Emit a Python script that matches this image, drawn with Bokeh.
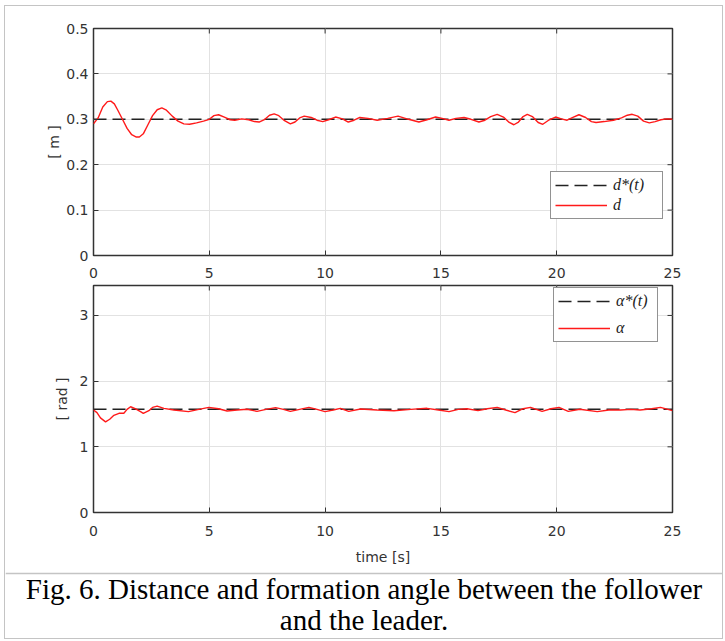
import math
from bokeh.plotting import figure
from bokeh.models import Range1d, FixedTicker, Legend, LegendItem, Label
from bokeh.layouts import column
from bokeh.embed import file_html
from bokeh.resources import INLINE

# ---------------- data ----------------
t_d = [0.00, 0.20, 0.40, 0.60, 0.75, 0.90, 1.05, 1.25, 1.45, 1.65, 1.85, 1.98, 2.15, 2.35,
       2.55, 2.75, 2.95, 3.15, 3.40, 3.65, 3.90, 4.15, 4.45, 4.75, 5.00, 5.20, 5.40, 5.65,
       5.90, 6.10, 6.40, 6.70, 6.95, 7.15, 7.40, 7.60, 7.80, 8.00, 8.25, 8.50, 8.70, 8.90,
       9.10, 9.40, 9.65, 9.90, 10.15, 10.45, 10.75, 11.00, 11.25, 11.50, 11.85, 12.25, 12.70,
       13.15, 13.60, 14.05, 14.40, 14.77, 15.05, 15.35, 15.65, 16.00, 16.30, 16.64, 16.90,
       17.15, 17.43, 17.70, 17.95, 18.15, 18.35, 18.55, 18.73, 18.95, 19.20, 19.40, 19.65,
       19.95, 20.20, 20.45, 20.70, 20.96, 21.25, 21.50, 21.70, 22.05, 22.45, 22.80, 23.05,
       23.26, 23.50, 23.75, 24.00, 24.25, 24.50, 24.75, 25.00]
d = [0.290, 0.303, 0.327, 0.339, 0.340, 0.334, 0.320, 0.300, 0.280, 0.266, 0.261, 0.261,
     0.268, 0.288, 0.308, 0.321, 0.325, 0.320, 0.307, 0.296, 0.290, 0.289, 0.292, 0.296,
     0.300, 0.308, 0.310, 0.305, 0.299, 0.298, 0.301, 0.299, 0.295, 0.294, 0.300, 0.309,
     0.312, 0.308, 0.297, 0.290, 0.294, 0.303, 0.307, 0.304, 0.298, 0.295, 0.299, 0.305,
     0.301, 0.294, 0.298, 0.304, 0.302, 0.298, 0.302, 0.307, 0.300, 0.294, 0.299, 0.305,
     0.302, 0.298, 0.302, 0.304, 0.300, 0.294, 0.298, 0.306, 0.311, 0.305, 0.293, 0.288,
     0.294, 0.306, 0.311, 0.306, 0.293, 0.289, 0.298, 0.305, 0.301, 0.298, 0.304, 0.310,
     0.304, 0.295, 0.293, 0.295, 0.298, 0.303, 0.309, 0.311, 0.307, 0.296, 0.292, 0.295,
     0.299, 0.301, 0.300]

t_alpha = [0.00, 0.15, 0.30, 0.52, 0.70, 0.88, 1.10, 1.31, 1.45, 1.60, 1.80, 2.03, 2.15,
           2.39, 2.55, 2.75, 3.04, 3.47, 4.10, 4.55, 4.98, 5.40, 5.77, 6.20, 6.63, 7.06,
           7.45, 7.86, 8.20, 8.50, 8.90, 9.30, 9.65, 10.00, 10.35, 10.66, 11.02, 11.53,
           12.25, 12.97, 13.70, 14.40, 14.90, 15.35, 15.75, 16.13, 16.60, 17.00, 17.43,
           17.80, 18.20, 18.55, 18.87, 19.37, 19.75, 20.10, 20.50, 21.00, 21.75, 22.25,
           22.75, 23.20, 23.60, 24.10, 24.48, 25.00]
alpha = [1.56, 1.52, 1.44, 1.38, 1.42, 1.48, 1.51, 1.51, 1.57, 1.61, 1.58, 1.535, 1.51,
         1.55, 1.60, 1.62, 1.586, 1.56, 1.535, 1.57, 1.60, 1.58, 1.545, 1.56, 1.571, 1.54,
         1.57, 1.596, 1.57, 1.54, 1.57, 1.60, 1.57, 1.535, 1.56, 1.586, 1.54, 1.575,
         1.56, 1.55, 1.57, 1.586, 1.56, 1.535, 1.57, 1.58, 1.55, 1.58, 1.60,
         1.56, 1.52, 1.58, 1.60, 1.54, 1.58, 1.60, 1.54, 1.571, 1.535, 1.56,
         1.56, 1.57, 1.56, 1.58, 1.60, 1.55]

t_ref = [0, 25]
d_ref = [0.3, 0.3]
alpha_ref = [1.5708, 1.5708]

x_limits = [0, 25]
d_limits = [0, 0.5]
alpha_limits = [0, 3.4558]

x_ticks = [0, 5, 10, 15, 20, 25]
x_tick_labels = ["0", "5", "10", "15", "20", "25"]
d_ticks = [0, 0.1, 0.2, 0.3, 0.4, 0.5]
d_tick_labels = ["0", "0.1", "0.2", "0.3", "0.4", "0.5"]
alpha_ticks = [0, 1, 2, 3]
alpha_tick_labels = ["0", "1", "2", "3"]

legend_d = ["d*(t)", "d"]
legend_alpha = ["α*(t)", "α"]
y_label_d = "[ m ]"
y_label_alpha = "[ rad ]"
x_label = "time [s]"
caption_lines = ["Fig. 6. Distance and formation angle between the follower",
                 "and the leader."]

# ---------------- styling ----------------
W = 717
AX_COL = "#333333"
TXT_COL = "#333333"
GRID_COL = "#e2e2e2"
SANS = "DejaVu Sans"
SERIF = "Liberation Serif"
RED = "#ff1a1a"


def style_main_axis(ax, ticks, labels, standoff):
    ax.ticker = FixedTicker(ticks=ticks)
    ax.major_label_overrides = {tk: lb for tk, lb in zip(ticks, labels)}
    ax.axis_line_color = None
    ax.major_tick_in = 5
    ax.major_tick_out = 0
    ax.major_tick_line_color = AX_COL
    ax.minor_tick_line_color = None
    ax.major_label_text_font = SANS
    ax.major_label_text_font_size = "14px"
    ax.major_label_text_color = TXT_COL
    ax.major_label_standoff = standoff
    ax.axis_label_text_font = SANS
    ax.axis_label_text_font_size = "14px"
    ax.axis_label_text_font_style = "normal"
    ax.axis_label_text_color = TXT_COL


def make_panel(height, ylim, yticks, ylabels, ylab, b_top, b_bottom, xlab, xstand, ylab_stand):
    p = figure(width=W, height=height, output_backend="svg", toolbar_location=None,
               x_range=Range1d(*x_limits), y_range=Range1d(*ylim),
               min_border_left=88, min_border_right=50,
               min_border_top=b_top, min_border_bottom=b_bottom)
    p.outline_line_color = AX_COL
    p.outline_line_width = 1.5
    p.background_fill_color = "white"
    p.border_fill_color = "white"
    style_main_axis(p.xaxis[0], x_ticks, x_tick_labels, xstand)
    style_main_axis(p.yaxis[0], yticks, ylabels, 5)
    p.yaxis[0].axis_label = ylab
    p.yaxis[0].axis_label_standoff = ylab_stand
    if xlab:
        p.xaxis[0].axis_label = xlab
        p.xaxis[0].axis_label_standoff = 10
    p.xgrid.grid_line_color = GRID_COL
    p.ygrid.grid_line_color = GRID_COL
    # inward ticks on the top and right edges (box style)
    p.ray(x=x_ticks, y=[ylim[1]] * len(x_ticks), length=5, length_units="screen",
          angle=-math.pi / 2, line_color=AX_COL, line_width=1)
    p.ray(x=[x_limits[1]] * len(yticks), y=yticks, length=5, length_units="screen",
          angle=math.pi, line_color=AX_COL, line_width=1)
    return p


def add_legend(p, items, loc, label_width, spacing):
    lg = Legend(items=items, location=loc, orientation="vertical",
                border_line_color="#262626", border_line_width=1,
                background_fill_color="white", background_fill_alpha=1,
                label_text_font=SERIF, label_text_font_style="italic",
                label_text_font_size="16px", label_text_color="#222222",
                glyph_width=52, glyph_height=18, label_height=18,
                label_width=label_width, label_standoff=6,
                padding=4, spacing=spacing, margin=0)
    p.add_layout(lg)


# top panel
p1 = make_panel(274, d_limits, d_ticks, d_tick_labels, y_label_d, 22, 25, None, 12, 1)
r1a = p1.line(t_ref, d_ref, line_color="#222222", line_width=1.6, line_dash="13 6")
r1b = p1.line(t_d, d, line_color=RED, line_width=1.4)
add_legend(p1, [LegendItem(label=legend_d[0], renderers=[r1a]),
                LegendItem(label=legend_d[1], renderers=[r1b])], (457, 36), 45, 2)

# bottom panel
p2 = make_panel(292, alpha_limits, alpha_ticks, alpha_tick_labels, y_label_alpha, 5, 60,
                x_label, 13, 7)
r2a = p2.line(t_ref, alpha_ref, line_color="#222222", line_width=1.6, line_dash="13 6")
r2b = p2.line(t_alpha, alpha, line_color=RED, line_width=1.4)
add_legend(p2, [LegendItem(label=legend_alpha[0], renderers=[r2a]),
                LegendItem(label=legend_alpha[1], renderers=[r2b])], (460, 170), 37, 9)

# caption
cap = figure(width=W, height=66, output_backend="svg", toolbar_location=None,
             x_range=Range1d(0, 1), y_range=Range1d(0, 1),
             x_axis_type=None, y_axis_type=None,
             min_border_left=0, min_border_right=0, min_border_bottom=0, min_border_top=2)
cap.grid.visible = False
cap.outline_line_color = None
cap.border_fill_color = "#c4c4c4"
cap.background_fill_color = "white"
for yy, txt in zip([0.77, 0.29], caption_lines):
    cap.add_layout(Label(x=0.5, y=yy, text=txt, text_align="center",
                         text_baseline="alphabetic", text_font=SERIF,
                         text_font_size="29px", text_color="black"))

plots = column(p1, p2, spacing=0)
layout = column(plots, cap, spacing=0,
                styles={"border": "1px solid #c4c4c4", "margin-left": "4px",
                        "margin-top": "5px"})

open("out.html", "w").write(file_html(layout, INLINE))
